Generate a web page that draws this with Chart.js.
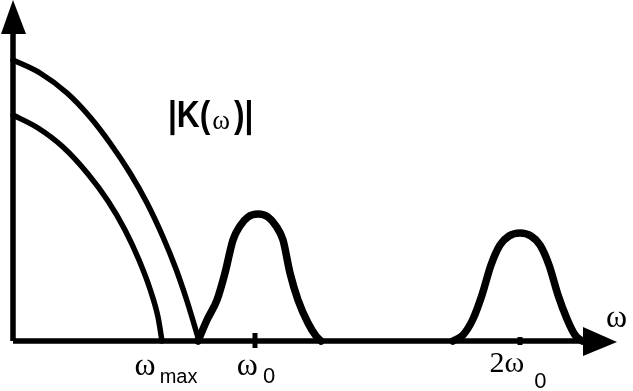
<!DOCTYPE html>
<html>
<head>
<meta charset="utf-8">
<script src="https://cdn.jsdelivr.net/npm/chart.js@4.4.1/dist/chart.umd.min.js"></script>
<style>
  html, body { margin: 0; padding: 0; background: #fff; }
  #wrap { width: 633px; height: 391px; }
</style>
</head>
<body>
<div id="wrap"><canvas id="chart"></canvas></div>
<script>
// curves (x = frequency, y = |K|, arbitrary units)
const outerX = [0, 27, 54, 77, 97, 117, 134, 150, 163, 174, 181, 186];
const outerY = [281, 268, 248, 224, 198, 168, 138, 104, 72, 40, 17, 0];
const innerX = [0, 25, 50, 75, 95, 112, 126, 137, 145, 149];
const innerY = [226, 213, 194, 167, 140, 111, 81, 52, 24, 0];
const peak1X = [185, 194, 204, 212, 220, 227, 235, 245, 255, 263, 270, 277, 285, 295, 303, 308];
const peak1Y = [0, 21, 41, 68, 101, 115, 124, 127, 124, 115, 101, 68, 41, 18, 5, 0];
const peak2X = [440, 450, 460, 469, 478, 487, 496, 507, 518, 527, 536, 545, 554, 562, 569];
const peak2Y = [0, 6, 22, 46, 76, 96, 105, 108, 105, 96, 76, 46, 22, 6, 0];

// axis labels: main symbol, subscript, where they sit on the axis
const tickMain = ['ω', 'ω', '2ω'];
const tickSub = ['max', '0', '0'];
const tickPos = [153, 243, 505];
const tickMarks = [242, 507];

const xMax = 604, yMax = 341;

function pts(xs, ys) {
    return xs.map((x, i) => ({x: x, y: ys[i]}));
}

function curve(xs, ys, w) {
    return {
        data: pts(xs, ys),
        showLine: true,
        borderColor: '#000',
        borderWidth: w,
        pointRadius: 0,
        cubicInterpolationMode: 'monotone',
        borderCapStyle: 'round',
        borderJoinStyle: 'round',
        clip: false
    };
}

// label styling: [main font, sub font, gap, main baseline, sub baseline] (px below axis)
const labelStyle = [
    ['32px "Liberation Serif"', '20px "Liberation Sans"', 4, 34, 42],
    ['32px "Liberation Serif"', '22px "Liberation Sans"', 5, 34, 42],
    ['30px "Liberation Serif"', '22px "Liberation Sans"', 10, 31, 47]
];

const schematic = {
    id: 'schematic',
    afterDatasetsDraw(chart) {
        const ctx = chart.ctx;
        const xs = chart.scales.x, ys = chart.scales.y;
        const x0 = xs.getPixelForValue(0), y0 = ys.getPixelForValue(0);
        const xEnd = xs.getPixelForValue(xMax), yTop = ys.getPixelForValue(yMax);
        ctx.save();
        ctx.strokeStyle = '#000';
        ctx.fillStyle = '#000';
        ctx.lineWidth = 5.5;
        // axes
        ctx.beginPath();
        ctx.moveTo(x0, y0);
        ctx.lineTo(x0, yTop + 30);
        ctx.moveTo(x0, y0);
        ctx.lineTo(xEnd - 30, y0);
        ctx.stroke();
        // arrow heads
        ctx.beginPath();
        ctx.moveTo(x0, yTop);
        ctx.lineTo(x0 - 12, yTop + 34);
        ctx.lineTo(x0 + 13, yTop + 34);
        ctx.closePath();
        ctx.fill();
        ctx.beginPath();
        ctx.moveTo(xEnd, y0 + 1);
        ctx.lineTo(xEnd - 34, y0 - 14);
        ctx.lineTo(xEnd - 34, y0 + 15);
        ctx.closePath();
        ctx.fill();
        // tick marks
        ctx.lineWidth = 5;
        tickMarks.forEach((v, i) => {
            const px = xs.getPixelForValue(v);
            ctx.beginPath();
            ctx.moveTo(px, y0 - (i === 0 ? 8 : 4));
            ctx.lineTo(px, y0 + (i === 0 ? 7 : 4));
            ctx.stroke();
        });
        // tick labels
        ctx.textBaseline = 'alphabetic';
        ctx.textAlign = 'left';
        tickMain.forEach((m, i) => {
            const st = labelStyle[i];
            ctx.font = st[0];
            const mw = ctx.measureText(m).width;
            ctx.font = st[1];
            const sw = ctx.measureText(tickSub[i]).width;
            const left = xs.getPixelForValue(tickPos[i]) - (mw + st[2] + sw) / 2;
            ctx.font = st[0];
            ctx.fillText(m, left, y0 + st[3]);
            ctx.font = st[1];
            ctx.fillText(tickSub[i], left + mw + st[2], y0 + st[4]);
        });
        // omega at the end of the x axis
        ctx.font = '32px "Liberation Serif"';
        ctx.fillText('ω', xEnd - 11, y0 - 14);
        // |K(ω)| label, slightly condensed bold sans
        const lx = xs.getPixelForValue(155), ly = ys.getPixelForValue(214);
        ctx.save();
        ctx.translate(lx, ly);
        ctx.scale(0.88, 1);
        ctx.font = 'bold 36px "Liberation Sans"';
        ctx.fillText('|K(', 0, 0);
        let w = ctx.measureText('|K(').width;
        ctx.restore();
        w = w * 0.88;
        ctx.font = '27px "Liberation Serif"';
        ctx.fillText('ω', lx + w + 2, ly + 2);
        w += ctx.measureText('ω').width + 6;
        ctx.save();
        ctx.translate(lx + w, ly);
        ctx.scale(0.88, 1);
        ctx.font = 'bold 36px "Liberation Sans"';
        ctx.fillText(')|', 0, 0);
        ctx.restore();
        ctx.restore();
    }
};

new Chart(document.getElementById('chart'), {
    type: 'scatter',
    data: {
        datasets: [
            curve(outerX, outerY, 5.5),
            curve(innerX, innerY, 5.5),
            curve(peak1X, peak1Y, 7.5),
            curve(peak2X, peak2Y, 7.5)
        ]
    },
    options: {
        responsive: true,
        maintainAspectRatio: false,
        animation: false,
        layout: { padding: { left: 13, right: 16, top: 0, bottom: 50 } },
        plugins: { legend: { display: false }, tooltip: { enabled: false } },
        scales: {
            x: { type: 'linear', min: 0, max: xMax, display: false },
            y: { type: 'linear', min: 0, max: yMax, display: false }
        }
    },
    plugins: [schematic]
});
</script>
</body>
</html>
